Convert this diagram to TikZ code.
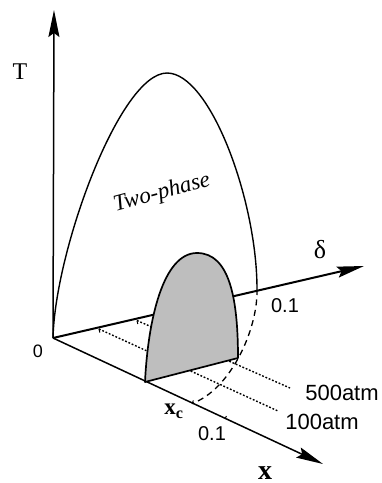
\documentclass[tikz,border=0pt]{standalone}
\usepackage{fontspec}
\setmainfont{Liberation Serif}
\setsansfont{Liberation Sans}
\usetikzlibrary{arrows.meta}
\definecolor{shade}{RGB}{190,190,190}
\tikzset{
  axisline/.style={line width=1.5pt,-{Stealth[length=27pt,width=11pt,inset=4pt]}},
  curveline/.style={line width=1.4pt},
  dotline/.style={line width=1.4pt,dash pattern=on 1.8pt off 1.8pt},
  dashline/.style={line width=1.3pt,dash pattern=on 6pt off 4.5pt},
  ticksty/.style={line width=1pt},
  lbl/.style={inner sep=0pt},
  slbl/.style={inner sep=0pt,font=\sffamily\fontsize{20}{24}\selectfont},
}
\begin{document}
\begin{tikzpicture}[x=1pt,y=-1pt]
\path[fill=white,use as bounding box] (0,0) rectangle (382,483);
% key points
\coordinate (O) at (53,338);
\coordinate (Ttip) at (54,10);
\coordinate (Dtip) at (364,266);
\coordinate (Xtip) at (323,464);
\coordinate (d1) at (99,329);
\coordinate (d2) at (137,320.5);
\coordinate (e1) at (278,411);
\coordinate (e2) at (290,388);
\coordinate (xc) at (192,403.5);
\coordinate (x1) at (225,419);
\coordinate (peak) at (167,73);
\coordinate (cr) at (257,289);
\coordinate (sl) at (145,382);
\coordinate (sr) at (238,358);
\coordinate (sp) at (197,253);
% axes
\draw[axisline] (O) -- (Ttip);
\draw[axisline,line width=2pt] (O) -- (Dtip);
\draw[axisline] (O) -- (Xtip);
% ticks
\draw[ticksty] (d1) -- ++(0.8,3.5);
\draw[ticksty] (d2) -- ++(0.8,3.5);
\draw[ticksty] (xc) -- ++(1.4,-3);
\draw[ticksty] (x1) -- ++(1.4,-3);
% dotted pressure lines
\draw[dotline] (d1) -- (e1);
\draw[dotline] (d2) -- (e2);
% shaded region
\draw[line width=1.7pt,fill=shade,line join=round]
  (sl) .. controls (148,320) and (163,253) .. (sp)
       .. controls (230,253) and (238,300) .. (sr) -- cycle;
% big curve
\draw[curveline] (O) .. controls (55,250) and (120,73) .. (peak)
  .. controls (210,73) and (257,200) .. (cr);
\draw[dashline] (cr) .. controls (258,330) and (230,390) .. (xc);
% labels
\node[lbl,font=\fontsize{24}{28}\selectfont] (Tl) at (20,72) {T};
\node[slbl,font=\sffamily\fontsize{18}{22}\selectfont] (Ol) at (38,351) {0};
\node[lbl,font=\fontsize{26}{30}\selectfont] (Dl) at (320,250) {δ};
\node[slbl] (D01) at (285,306) {0.1};
\node[lbl,rotate=15,font=\itshape\fontsize{23}{26}\selectfont] (tp) at (162,193) {Two-phase};
\node[slbl,font=\sffamily\fontsize{22}{26}\selectfont] (p500) at (342,393) {500atm};
\node[slbl,font=\sffamily\fontsize{22}{26}\selectfont] (p100) at (322,422) {100atm};
\node[slbl] (X01) at (212,434) {0.1};
\node[lbl,font=\bfseries\fontsize{23}{26}\selectfont] (xcl) at (174,411) {x\textsubscript{c}};
\node[lbl,font=\bfseries\fontsize{28}{30}\selectfont] (Xl) at (265,473) {x};
\end{tikzpicture}
\end{document}
